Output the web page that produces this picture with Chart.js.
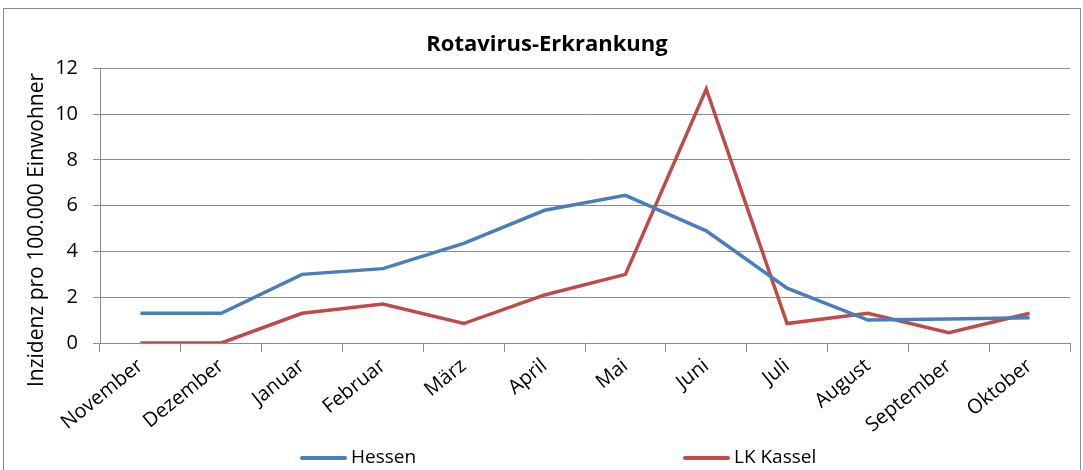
<!DOCTYPE html>
<html>
<head>
<meta charset="utf-8">
<script src="https://cdn.jsdelivr.net/npm/chart.js@4"></script>
<style>
  html, body { margin: 0; padding: 0; background: #fff; }
  #wrap { position: relative; width: 1083px; height: 470px; overflow: hidden; }
  #frame { position: absolute; left: 3px; top: 8px; width: 1078px; height: 480px; border: 1px solid #8c8c8c; box-sizing: border-box; }
  canvas { position: absolute; left: 0; top: 0; }
</style>
</head>
<body>
<div id="wrap">
  <div id="frame"></div>
  <canvas id="chart" width="1083" height="470"></canvas>
</div>
<script>
const months = ['November', 'Dezember', 'Januar', 'Februar', 'März', 'April', 'Mai', 'Juni', 'Juli', 'August', 'September', 'Oktober'];
const hessen = [1.3, 1.3, 3.0, 3.25, 4.35, 5.8, 6.45, 4.9, 2.4, 1.0, 1.05, 1.1];
const lkKassel = [0, 0, 1.3, 1.7, 0.85, 2.1, 3.0, 11.1, 0.85, 1.3, 0.45, 1.3];
const yTicks = [0, 2, 4, 6, 8, 10, 12];
const yTitle = 'Inzidenz pro 100.000 Einwohner';

const FONT = '"Open Sans", "Liberation Sans", sans-serif';
Chart.defaults.font.family = FONT;
Chart.defaults.color = '#000';

// legend and y title drawn by hand so they sit where Excel put them
const legendX = [300, 683];
const extras = {
  id: 'extras',
  afterDraw(chart) {
    const c = chart.ctx;
    c.save();
    c.font = '19px ' + FONT;
    c.textBaseline = 'middle';
    c.fillStyle = '#000';
    chart.data.datasets.forEach((ds, i) => {
      const x = legendX[i], y = 458;
      c.strokeStyle = ds.borderColor;
      c.lineWidth = 4;
      c.lineCap = 'round';
      c.beginPath();
      c.moveTo(x + 2, y);
      c.lineTo(x + 45, y);
      c.stroke();
      c.fillText(ds.label, x + 51, y);
    });
    c.translate(37, 230);
    c.rotate(-Math.PI / 2);
    c.font = '21px ' + FONT;
    c.textAlign = 'center';
    c.fillText(yTitle, 0, 0);
    c.restore();
  }
};

const ctx = document.getElementById('chart').getContext('2d');
new Chart(ctx, {
  type: 'line',
  data: {
    labels: months,
    datasets: [
      { label: 'Hessen', data: hessen, borderColor: '#4a7ebb', backgroundColor: '#4a7ebb', borderWidth: 3.5, pointRadius: 0, tension: 0 },
      { label: 'LK Kassel', data: lkKassel, borderColor: '#be4b48', backgroundColor: '#be4b48', borderWidth: 3.5, pointRadius: 0, tension: 0 }
    ]
  },
  options: {
    responsive: false,
    animation: false,
    layout: { padding: { left: 24, right: 13, top: 10, bottom: 0 } },
    plugins: {
      title: {
        display: true,
        text: 'Rotavirus-Erkrankung',
        font: { size: 22, weight: 'bold' },
        padding: { top: 22, bottom: 10 }
      },
      legend: { display: false },
      tooltip: { enabled: false }
    },
    scales: {
      x: {
        offset: true,
        grid: { display: true, drawOnChartArea: false, color: '#8c8c8c', tickLength: 9, offset: true },
        border: { color: '#8c8c8c' },
        ticks: { minRotation: 39, maxRotation: 39, font: { size: 20 }, padding: 2 },
        afterFit(scale) { scale.height = 127; }
      },
      y: {
        min: 0,
        max: 12,
        afterBuildTicks(scale) { scale.ticks = yTicks.map(v => ({ value: v })); },
        grid: { color: '#8c8c8c', tickLength: 7 },
        border: { color: '#8c8c8c' },
        ticks: { font: { size: 20 }, padding: 15 },
        afterFit(scale) { scale.width = 76; }
      }
    }
  },
  plugins: [extras]
});
</script>
</body>
</html>
